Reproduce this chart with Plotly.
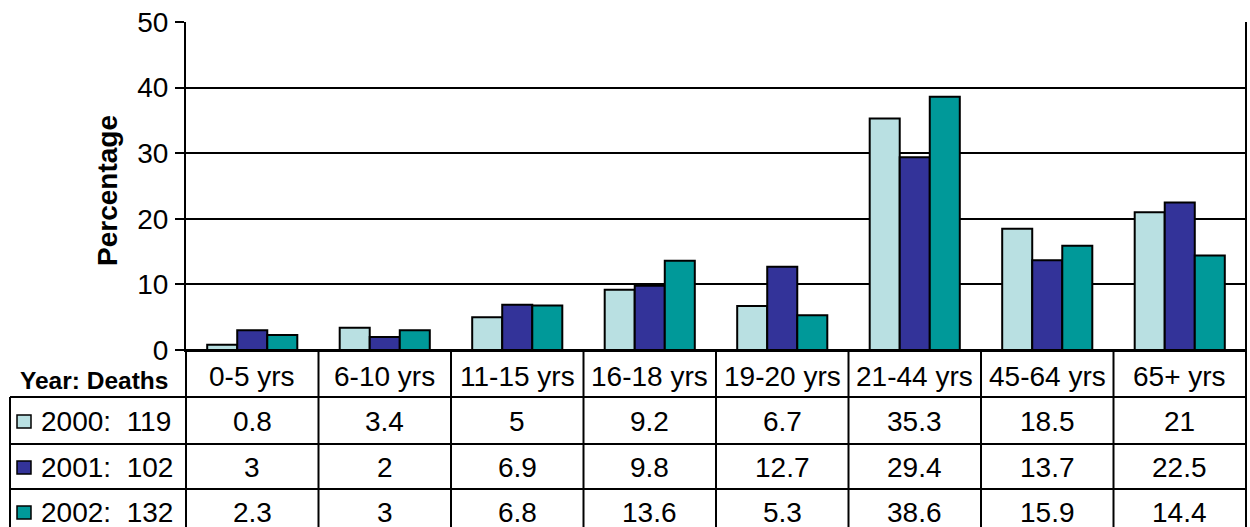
import plotly.graph_objects as go

categories = ["0-5 yrs", "6-10 yrs", "11-15 yrs", "16-18 yrs", "19-20 yrs", "21-44 yrs", "45-64 yrs", "65+ yrs"]
years = ["2000", "2001", "2002"]
deaths = [119, 102, 132]
values_2000 = [0.8, 3.4, 5, 9.2, 6.7, 35.3, 18.5, 21]
values_2001 = [3, 2, 6.9, 9.8, 12.7, 29.4, 13.7, 22.5]
values_2002 = [2.3, 3, 6.8, 13.6, 5.3, 38.6, 15.9, 14.4]
colors = ["#B9E0E2", "#333399", "#009999"]
y_ticks = [0, 10, 20, 30, 40, 50]

series = [values_2000, values_2001, values_2002]

W, H = 1250, 527
FONT = "Liberation Sans, Arial, sans-serif"
FS = 28


def px(x):
    return x / W


def py(y):
    return 1 - y / H


plot_left, plot_right, plot_top, plot_bottom = 186, 1246, 22, 350
row_lines = [397, 444, 489]
row_centers = [421, 467, 512]
header_center = 376

fig = go.Figure()
for yr, vals, col in zip(years, series, colors):
    fig.add_trace(go.Bar(
        x=categories, y=vals, name=yr,
        marker=dict(color=col, line=dict(color="black", width=2)),
        showlegend=False, hoverinfo="skip",
    ))

shapes = []
for yl in row_lines:
    shapes.append(dict(type="line", xref="paper", yref="paper",
                       x0=px(10), x1=px(plot_right), y0=py(yl), y1=py(yl),
                       line=dict(color="black", width=2)))
shapes.append(dict(type="line", xref="paper", yref="paper",
                   x0=px(10), x1=px(10), y0=py(row_lines[0]), y1=py(H + 5),
                   line=dict(color="black", width=2)))
shapes.append(dict(type="line", xref="paper", yref="paper",
                   x0=px(plot_left), x1=px(plot_left), y0=py(plot_bottom), y1=py(H + 5),
                   line=dict(color="black", width=2)))
shapes.append(dict(type="line", xref="paper", yref="paper",
                   x0=px(plot_right), x1=px(plot_right), y0=py(plot_top), y1=py(H + 5),
                   line=dict(color="black", width=2)))
for i in range(1, len(categories)):
    shapes.append(dict(type="line", xref="x", yref="paper",
                       x0=i - 0.5, x1=i - 0.5, y0=py(plot_bottom), y1=py(H + 5),
                       line=dict(color="black", width=2)))
for j, col in enumerate(colors):
    c = row_centers[j]
    shapes.append(dict(type="rect", xref="paper", yref="paper",
                       x0=px(17), x1=px(31), y0=py(c - 6), y1=py(c + 7),
                       fillcolor=col, line=dict(color="black", width=1.5)))

annotations = []
annotations.append(dict(text="<b>Year: Deaths</b>", xref="paper", yref="paper",
                        x=px(94), y=py(header_center + 4), showarrow=False,
                        font=dict(size=24.5, family=FONT, color="black"),
                        xanchor="center", yanchor="middle"))
for j, (yr, d) in enumerate(zip(years, deaths)):
    annotations.append(dict(text=f"{yr}:  {d}", xref="paper", yref="paper",
                            x=px(39), y=py(row_centers[j]), showarrow=False,
                            font=dict(size=FS, family=FONT, color="black"),
                            xanchor="left", yanchor="middle"))
for i, cat in enumerate(categories):
    annotations.append(dict(text=cat, xref="x", yref="paper",
                            x=i, y=py(header_center), showarrow=False,
                            font=dict(size=FS, family=FONT, color="black"),
                            xanchor="center", yanchor="middle"))
    for j, vals in enumerate(series):
        annotations.append(dict(text=f"{vals[i]:g}", xref="x", yref="paper",
                                x=i, y=py(row_centers[j]), showarrow=False,
                                font=dict(size=FS, family=FONT, color="black"),
                                xanchor="center", yanchor="middle"))
annotations.append(dict(text="<b>Percentage</b>", xref="paper", yref="paper",
                        x=px(107), y=py(191), showarrow=False, textangle=-90,
                        font=dict(size=FS, family=FONT, color="black"),
                        xanchor="center", yanchor="middle"))

fig.update_layout(
    width=W, height=H, autosize=False,
    margin=dict(l=0, r=0, t=0, b=0, pad=0, autoexpand=False),
    paper_bgcolor="white", plot_bgcolor="white",
    barmode="group", bargap=0.32, bargroupgap=0,
    font=dict(family=FONT, color="black", size=FS),
    shapes=shapes, annotations=annotations,
    xaxis=dict(domain=[px(plot_left), px(plot_right)], range=[-0.5, len(categories) - 0.5],
               showticklabels=False, showgrid=False, zeroline=False, automargin=False,
               showline=True, linecolor="black", linewidth=2, ticks=""),
    yaxis=dict(domain=[py(plot_bottom), py(plot_top)], range=[0, 50], automargin=False,
               tickvals=y_ticks, showgrid=True, gridcolor="black", gridwidth=2,
               zeroline=True, zerolinecolor="black", zerolinewidth=2,
               showline=True, linecolor="black", linewidth=2,
               ticks="outside", ticklen=9, tickwidth=2, tickcolor="black",
               ticklabelstandoff=1,
               tickfont=dict(size=FS, family=FONT, color="black")),
)

fig.write_html("out.html", config={"displayModeBar": False},
               post_script="document.body.style.margin='0';document.body.style.overflow='hidden';")
